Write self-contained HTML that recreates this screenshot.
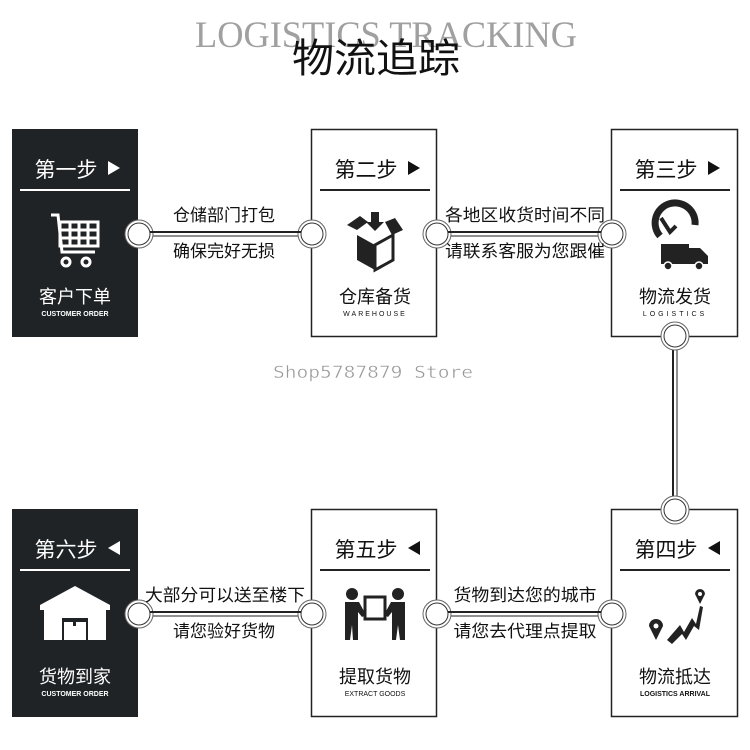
<!DOCTYPE html>
<html><head><meta charset="utf-8"><style>
html,body{margin:0;padding:0;background:#fff;}
svg{display:block;}
text{font-family:"Liberation Sans","Noto Sans CJK SC",sans-serif;}
</style></head><body>
<svg width="750" height="750" viewBox="0 0 750 750" xmlns="http://www.w3.org/2000/svg">
<rect width="750" height="750" fill="#fff"/>
<text x="386" y="47" text-anchor="middle" font-size="37" fill="#a0a0a0" textLength="382" lengthAdjust="spacingAndGlyphs" style="font-family:'Liberation Serif',serif">LOGISTICS TRACKING</text>
<text x="376" y="72" text-anchor="middle" font-size="40" fill="#111" style="font-family:'Noto Sans CJK SC',sans-serif" textLength="168" lengthAdjust="spacingAndGlyphs">物流追踪</text>

<g stroke="#222" fill="none">
<line x1="140" y1="232" x2="311" y2="232" stroke-width="2"/>
<line x1="140" y1="236" x2="311" y2="236" stroke-width="1"/>
<line x1="437" y1="232" x2="611" y2="232" stroke-width="2"/>
<line x1="437" y1="236" x2="611" y2="236" stroke-width="1"/>
<line x1="140" y1="612" x2="311" y2="612" stroke-width="2"/>
<line x1="140" y1="616" x2="311" y2="616" stroke-width="1"/>
<line x1="437" y1="612" x2="611" y2="612" stroke-width="2"/>
<line x1="437" y1="616" x2="611" y2="616" stroke-width="1"/>
<line x1="673" y1="337" x2="673" y2="509" stroke-width="2"/>
<line x1="677" y1="337" x2="677" y2="509" stroke-width="1"/>
</g>

<rect x="12" y="129" width="126" height="208" fill="#1f2326"/>
<rect x="311.5" y="129.5" width="125" height="207" fill="#fff" stroke="#222" stroke-width="1.5"/>
<rect x="611.5" y="129.5" width="126" height="207" fill="#fff" stroke="#222" stroke-width="1.5"/>
<rect x="12" y="509" width="126" height="208" fill="#1f2326"/>
<rect x="311.5" y="509.5" width="125" height="207" fill="#fff" stroke="#222" stroke-width="1.5"/>
<rect x="611.5" y="509.5" width="126" height="207" fill="#fff" stroke="#222" stroke-width="1.5"/>

<g fill="#fff" stroke="#333" stroke-width="1">
<circle cx="139" cy="234" r="14" stroke="#666"/><circle cx="139" cy="234" r="11"/>
<circle cx="312" cy="234" r="14" stroke="#666"/><circle cx="312" cy="234" r="11"/>
<circle cx="437" cy="234" r="14" stroke="#666"/><circle cx="437" cy="234" r="11"/>
<circle cx="612" cy="234" r="14" stroke="#666"/><circle cx="612" cy="234" r="11"/>
<circle cx="139" cy="614" r="14" stroke="#666"/><circle cx="139" cy="614" r="11"/>
<circle cx="312" cy="614" r="14" stroke="#666"/><circle cx="312" cy="614" r="11"/>
<circle cx="437" cy="614" r="14" stroke="#666"/><circle cx="437" cy="614" r="11"/>
<circle cx="612" cy="614" r="14" stroke="#666"/><circle cx="612" cy="614" r="11"/>
<circle cx="675" cy="336" r="14" stroke="#666"/><circle cx="675" cy="336" r="11"/>
<circle cx="675" cy="510" r="14" stroke="#666"/><circle cx="675" cy="510" r="11"/>
</g>
<g stroke="#222">
<line x1="150" y1="232" x2="301" y2="232" stroke-width="2"/>
<line x1="448" y1="232" x2="601" y2="232" stroke-width="2"/>
<line x1="150" y1="612" x2="301" y2="612" stroke-width="2"/>
<line x1="448" y1="612" x2="601" y2="612" stroke-width="2"/>
</g>

<g font-size="17" fill="#111" text-anchor="middle">
<text x="224" y="221">仓储部门打包</text>
<text x="224" y="257">确保完好无损</text>
<text x="525" y="221" textLength="160" lengthAdjust="spacingAndGlyphs">各地区收货时间不同</text>
<text x="525" y="257" textLength="160" lengthAdjust="spacingAndGlyphs">请联系客服为您跟催</text>
<text x="225" y="601" textLength="160" lengthAdjust="spacingAndGlyphs">大部分可以送至楼下</text>
<text x="224" y="637">请您验好货物</text>
<text x="525" y="601" textLength="143" lengthAdjust="spacingAndGlyphs">货物到达您的城市</text>
<text x="525" y="637" textLength="143" lengthAdjust="spacingAndGlyphs">请您去代理点提取</text>
</g>

<g font-size="21" text-anchor="middle">
<text x="66" y="177" fill="#fff">第一步</text>
<text x="366" y="177" fill="#111">第二步</text>
<text x="666" y="177" fill="#111">第三步</text>
<text x="66" y="557" fill="#fff">第六步</text>
<text x="366" y="557" fill="#111">第五步</text>
<text x="666" y="557" fill="#111">第四步</text>
</g>
<g>
<path d="M108 161 L120 168 L108 175 Z" fill="#fff"/>
<path d="M408 161 L420 168 L408 175 Z" fill="#111"/>
<path d="M708 161 L720 168 L708 175 Z" fill="#111"/>
<path d="M120 541 L108 548 L120 555 Z" fill="#fff"/>
<path d="M420 541 L408 548 L420 555 Z" fill="#111"/>
<path d="M720 541 L708 548 L720 555 Z" fill="#111"/>
</g>
<g stroke-width="2">
<line x1="20" y1="190" x2="130" y2="190" stroke="#fff"/>
<line x1="320" y1="190" x2="430" y2="190" stroke="#222"/>
<line x1="620" y1="190" x2="730" y2="190" stroke="#222"/>
<line x1="20" y1="570" x2="130" y2="570" stroke="#fff"/>
<line x1="320" y1="570" x2="430" y2="570" stroke="#222"/>
<line x1="620" y1="570" x2="730" y2="570" stroke="#222"/>
</g>

<g font-size="18" text-anchor="middle">
<text x="75" y="303" fill="#fff">客户下单</text>
<text x="375" y="303" fill="#111">仓库备货</text>
<text x="675" y="303" fill="#111">物流发货</text>
<text x="75" y="683" fill="#fff">货物到家</text>
<text x="375" y="683" fill="#111">提取货物</text>
<text x="675" y="683" fill="#111">物流抵达</text>
</g>
<g font-size="7" text-anchor="middle" font-weight="bold">
<text x="75" y="316" fill="#fff">CUSTOMER ORDER</text>
<text x="375" y="316" fill="#111" letter-spacing="2" font-weight="normal">WAREHOUSE</text>
<text x="675" y="316" fill="#111" letter-spacing="3" font-weight="normal">LOGISTICS</text>
<text x="75" y="696" fill="#fff">CUSTOMER ORDER</text>
<text x="375" y="696" fill="#111" font-weight="normal">EXTRACT GOODS</text>
<text x="675" y="696" fill="#111">LOGISTICS ARRIVAL</text>
</g>

<g fill="none" stroke="#fff" stroke-width="3">
<path d="M51 215 L58 215 L62 252 L95 252"/>
<rect x="60" y="222" width="38" height="24"/>
<line x1="60" y1="230" x2="98" y2="230"/><line x1="60" y1="238" x2="98" y2="238"/>
<line x1="70" y1="222" x2="70" y2="246"/><line x1="79" y1="222" x2="79" y2="246"/><line x1="88" y1="222" x2="88" y2="246"/>
<circle cx="66" cy="262" r="4"/><circle cx="86" cy="262" r="4"/>
</g>
<g fill="#222">
<path d="M357 235 L375 245 L375 270 L357 260 Z"/>
<path d="M393 235 L375 245 L375 270 L393 260 Z" fill="none" stroke="#222" stroke-width="3"/>
<path d="M347 225 L360 216 L368 222 L357 230 Z"/>
<path d="M385 222 L395 218 L403 230 L392 235 Z"/>
<rect x="371" y="212" width="8" height="10"/><path d="M366 222 L384 222 L375 231 Z"/>
</g>
<g>
<path d="M660 236 A20 20 0 1 1 695 225" fill="none" stroke="#222" stroke-width="7"/>
<path d="M661 218 L670 232 L676 226" fill="none" stroke="#222" stroke-width="4"/>
<rect x="661" y="244" width="28" height="20" fill="#222"/>
<path d="M689 248 L700 248 L708 256 L708 264 L689 264 Z" fill="#222"/>
<circle cx="668" cy="266" r="4" fill="#222" stroke="#fff" stroke-width="1.5"/>
<circle cx="699" cy="266" r="4" fill="#222" stroke="#fff" stroke-width="1.5"/>
</g>
<g fill="#fff">
<path d="M40 605 L75 586 L110 605 L110 610 L40 610 Z"/>
<rect x="44" y="608" width="62" height="32"/>
<rect x="62" y="618" width="26" height="22" fill="#1f2326"/>
<rect x="64" y="622" width="22" height="18" fill="#fff"/>
<rect x="73" y="622" width="3" height="4" fill="#1f2326"/>
</g>
<g fill="#222">
<circle cx="352" cy="594" r="6"/><circle cx="398" cy="594" r="6"/>
<path d="M345 602 L359 602 L366 615 L362 617 L358 612 L358 640 L353 640 L352 625 L350 640 L345 640 Z"/>
<path d="M391 602 L405 602 L405 640 L400 640 L398 625 L396 640 L392 640 L392 612 L388 617 L384 615 Z"/>
<rect x="365" y="597" width="20" height="22" fill="none" stroke="#222" stroke-width="3"/>
</g>
<g fill="#222">
<path d="M649 626 A7 7 0 1 1 663 626 L656 640 Z"/>
<circle cx="656" cy="626" r="2.5" fill="#fff"/>
<path d="M695 594 A5 5 0 1 1 705 594 L700 604 Z"/>
<circle cx="700" cy="594" r="2" fill="#fff"/>
<path d="M667 640 L680 625 L684 632 L692 618 L696 624 L700 606 L703 607 L699 630 L694 626 L686 640 L682 634 L672 644 Z"/>
</g>

<text x="373" y="378" text-anchor="middle" font-size="17" fill="#999" stroke="#fff" stroke-width="0.4" style="font-family:'DejaVu Sans Mono',monospace" textLength="200" lengthAdjust="spacingAndGlyphs">Shop5787879 Store</text>
</svg>
</body></html>
